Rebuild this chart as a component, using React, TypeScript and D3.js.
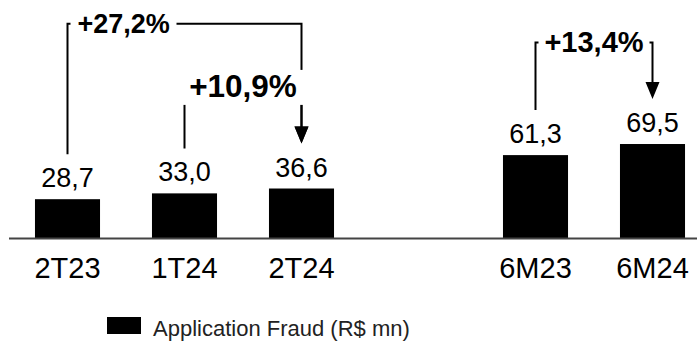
import React from "react";
import * as d3 from "d3";

const categories = ["2T23", "1T24", "2T24", "", "6M23", "6M24"];
const values: (number | null)[] = [28.7, 33.0, 36.6, null, 61.3, 69.5];
const valueLabels = ["28,7", "33,0", "36,6", "", "61,3", "69,5"];
const legendLabel = "Application Fraud (R$ mn)";

const annFrom = [0, 1, 4];
const annTo = [2, 2, 5];
const annLabels = ["+27,2%", "+10,9%", "+13,4%"];
const annTop = [158.5, 111, 144.5];

const W = 697;
const H = 343;
const FONT = "'Liberation Sans', Arial, sans-serif";

export default function App() {
  const x = d3
    .scaleBand<string>()
    .domain(categories.map((c, i) => c || `gap${i}`))
    .range([9, 711])
    .paddingInner(0.444)
    .paddingOuter(0.222);
  const y = d3.scaleLinear().domain([0, 176]).range([238, 0]);
  const key = (i: number) => categories[i] || `gap${i}`;
  const cx = (i: number) => (x(key(i)) as number) + x.bandwidth() / 2;
  const barTop = (i: number) => y(values[i] as number);

  const annFont = [27, 31.5, 29];

  return (
    <svg
      width={W}
      height={H}
      style={{ position: "absolute", left: 0, top: 0, background: "#fff" }}
      fontFamily={FONT}
    >
      {values.map((v, i) =>
        v == null ? null : (
          <rect
            key={"b" + i}
            x={x(key(i))}
            y={y(v)}
            width={x.bandwidth()}
            height={y(0) - y(v)}
            fill="#000"
          />
        )
      )}
      <line x1={9} x2={697} y1={y(0) + 0.5} y2={y(0) + 0.5} stroke="#444" strokeWidth={2} />
      {values.map((v, i) =>
        v == null ? null : (
          <text
            key={"v" + i}
            x={cx(i)}
            y={y(v) - 12}
            textAnchor="middle"
            fontSize={27}
            fill="#000"
          >
            {valueLabels[i]}
          </text>
        )
      )}
      {categories.map((c, i) =>
        c ? (
          <text key={"c" + i} x={cx(i)} y={278} textAnchor="middle" fontSize={29} fill="#000">
            {c}
          </text>
        ) : null
      )}
      {annFrom.map((f, k) => {
        const t = annTo[k];
        const x1 = cx(f);
        const x2 = cx(t);
        const yt = y(annTop[k]);
        const y1 = barTop(f) - 45;
        const y2 = barTop(t) - 45;
        return (
          <g key={"a" + k}>
            <path
              d={`M${x1},${y1}V${yt}H${x2}V${y2 - 16}`}
              fill="none"
              stroke="#000"
              strokeWidth={2}
            />
            <path d={`M${x2 - 7},${y2 - 17}L${x2 + 7},${y2 - 17}L${x2},${y2}Z`} fill="#000" />
          </g>
        );
      })}
      {annFrom.map((f, k) => {
        const t = annTo[k];
        const x1 = cx(f);
        const x2 = cx(t);
        const yt = y(annTop[k]);
        let bx: number, bw: number, by: number, bh: number, tx: number, anchor: string;
        if (k === 0) {
          bx = x1 + 3;
          bw = 106;
          by = yt - 14;
          bh = 24;
          tx = x1 + 10;
          anchor = "start";
        } else if (k === 1) {
          bx = x1 - 2;
          bw = x2 - x1 + 6;
          by = yt - 18;
          bh = 35;
          tx = (x1 + x2) / 2;
          anchor = "middle";
        } else {
          bx = x1 + 3;
          bw = x2 - x1 - 6;
          by = yt - 14;
          bh = 24;
          tx = (x1 + x2) / 2;
          anchor = "middle";
        }
        return (
          <g key={"al" + k}>
            <rect x={bx} y={by} width={bw} height={bh} fill="#fff" />
            <text
              x={tx}
              y={yt + 9}
              textAnchor={anchor}
              fontSize={annFont[k]}
              fontWeight="bold"
              fill="#000"
            >
              {annLabels[k]}
            </text>
          </g>
        );
      })}
      <rect x={107} y={317} width={34} height={17} fill="#000" />
      <text x={153} y={336} fontSize={22} fill="#222">
        {legendLabel}
      </text>
    </svg>
  );
}
